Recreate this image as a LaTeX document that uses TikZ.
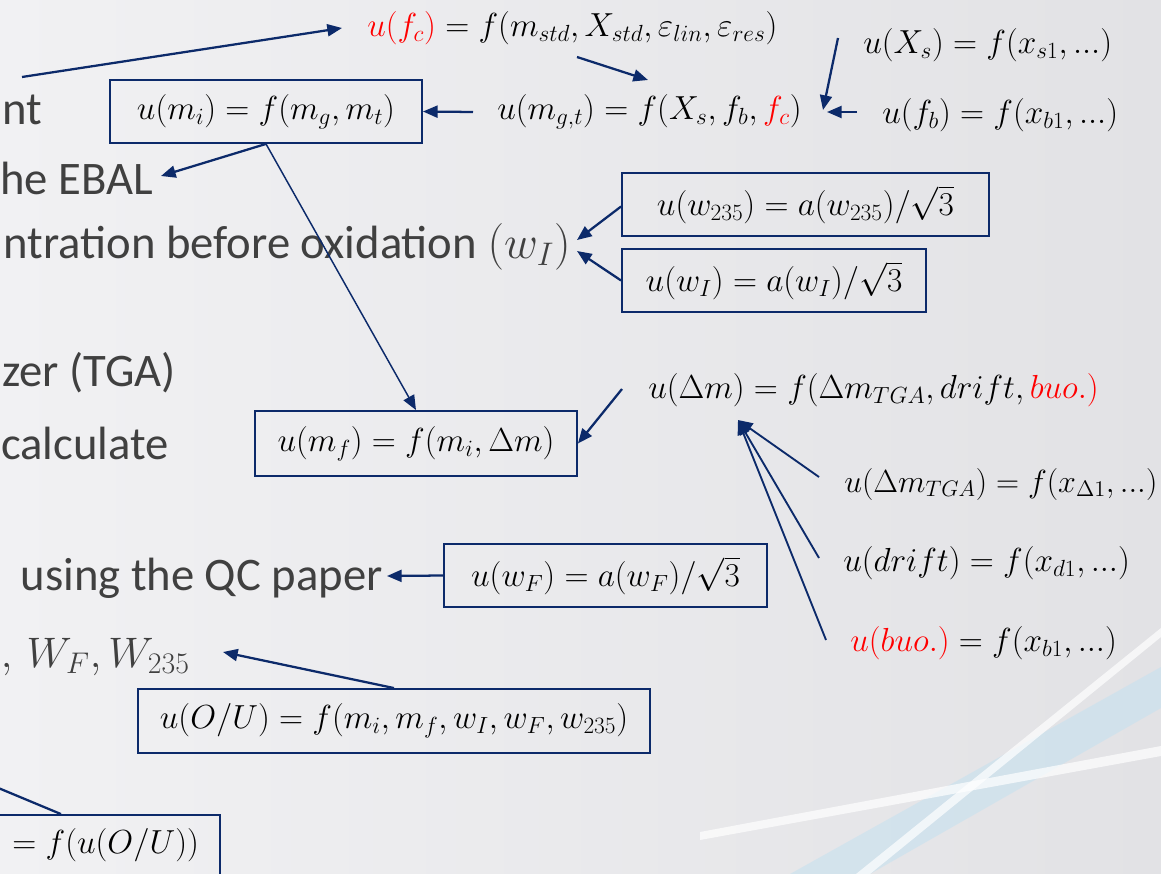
\RequirePackage{fix-cm}
\documentclass[tikz,border=0pt]{standalone}
\usepackage[no-math]{fontspec}
\newfontfamily\calibri{Carlito}
\usetikzlibrary{arrows.meta,calc}
\definecolor{mynavy}{HTML}{0C2A6A}
\definecolor{gtext}{HTML}{404040}
\definecolor{bgA}{HTML}{F1F1F3}
\definecolor{bgB}{HTML}{E2E2E5}
\definecolor{streak}{HTML}{C4E1F0}
\newcommand{\mydots}{{.}{.}{.}}
\begin{document}
\begin{tikzpicture}[x=0.75pt,y=-0.75pt,
  arr/.style={draw=mynavy, line width=1.7pt, -{Triangle[length=11pt,width=9pt]}},
  thinarr/.style={arr, line width=1.1pt},
  midarr/.style={arr, line width=1.4pt},
  box/.style={draw=mynavy, line width=1.4pt, inner sep=0pt, font=\fontsize{25}{30}\selectfont},
  eq/.style={inner sep=0pt, anchor=west, font=\fontsize{25}{30}\selectfont},
  lt/.style={inner sep=0pt, anchor=east, text=gtext, font=\calibri\fontsize{35}{42}\selectfont}]
\useasboundingbox (0,0) rectangle (1161,874);
\clip (0,0) rectangle (1161,874);
% background
\shade[left color=bgA, right color=bgB] (0,0) rectangle (1161,874);
\fill[streak, opacity=0.55] (790,874) -- (1161,667) -- (1161,708) -- (870,874) -- cycle;
\fill[white, opacity=0.7] (700,832) -- (1161,746) -- (1161,756) -- (700,840) -- cycle;
\fill[white, opacity=0.7] (856,874) -- (1161,628) -- (1161,637) -- (870,874) -- cycle;

% left slide text (cut off)
\node[lt] (t1) at (42,110) {nt};
\node[lt] (t2) at (153,178) {he EBAL};
\node[lt] (t3) at (571,247) {ntration before oxidation $(w_I)$};
\node[lt] (t4) at (176,373) {zer (TGA)};
\node[lt] (t5) at (169,443) {calculate};
\node[lt] (t6) at (383,578) {using the QC paper};
\node[lt, font=\fontsize{32}{38}\selectfont] (t7) at (190,657) {$,\,W_F, W_{235}$};

% formulas without boxes
\node[eq] (fc) at (367,28) {$\textcolor{red}{u(f_c)} = f(m_{std}, X_{std}, \varepsilon_{lin}, \varepsilon_{res})$};
\node[eq] (mgt) at (497,112) {$u\bigl(m_{g,t}\bigr) = f(X_s, f_b, \textcolor{red}{f_c})$};
\node[eq] (Xs) at (863,45) {$u(X_s) = f(x_{s1}, \mydots)$};
\node[eq] (fb) at (882,115) {$u(f_b) = f(x_{b1}, \mydots)$};
\node[eq] (dm) at (648,390) {$u(\Delta m) = f(\Delta m_{TGA}, drift, \textcolor{red}{buo.)}$};
\node[eq, font=\fontsize{24}{29}\selectfont] (dmT) at (844,484) {$u(\Delta m_{TGA}) = f(x_{\Delta 1}, \mydots)$};
\node[eq] (dr) at (843,563) {$u(drift) = f(x_{d1}, \mydots)$};
\node[eq] (bu) at (850,643) {$\textcolor{red}{u(buo.)} = f(x_{b1}, \mydots)$};

% boxed formulas
\node[box, minimum width=234pt, minimum height=47.25pt] (A) at (266,111.5) {$u(m_i) = f(m_g, m_t)$};
\node[box, minimum width=275.25pt, minimum height=47.25pt] (B) at (805.5,204.5) {$u(w_{235}) = a(w_{235})/\sqrt{3}$};
\node[box, minimum width=228pt, minimum height=47.25pt] (C) at (774,280.5) {$u(w_I) = a(w_I)/\sqrt{3}$};
\node[box, minimum width=241.5pt, minimum height=48.75pt] (D) at (416,443.5) {$u\bigl(m_f\bigr) = f(m_i, \Delta m)$};
\node[box, minimum width=242.25pt, minimum height=47.25pt] (E) at (605.5,575.5) {$u(w_F) = a(w_F)/\sqrt{3}$};
\node[box, minimum width=384pt, minimum height=48pt] (F) at (394,721) {$u(O/U) = f\bigl(m_i, m_f, w_I, w_F, w_{235}\bigr)$};
\node[box, minimum width=178.5pt, minimum height=45pt] (G) at (101,845) {${}= f\bigl(u(O/U)\bigr)$};

% connectors
\coordinate (s0) at (22,77);
\coordinate (g0) at (-40,772);
\draw[arr] (s0) -- ($(fc.west)+(-25,0)$);
\draw[arr] ($(fc.west)+(210,29)$) -- ($(mgt.west)+(151,-32)$);
\draw[arr] ($(mgt.west)+(-24,0)$) -- (A.east);
\draw[arr] ($(Xs.west)+(-25,-7)$) -- ($(fb.west)+(-59,-5)$);
\draw[arr] ($(fb.west)+(-25,-3)$) -- ($(fb.west)+(-55,-3)$);
\draw[arr] (A.south) -- ($(t2.east)+(8,-2)$);
\draw[thinarr] (A.south) -- (D.north);
\draw[arr] ($(B.west)+(0,2)$) -- ($(t3.east)+(6,-7)$);
\draw[arr] (C.west) -- ($(t3.east)+(6,4)$);
\draw[arr] ($(dm.west)+(-26,-1)$) -- (D.east);
\draw[midarr] ($(dmT.west)+(-25,-7)$) -- ($(dm.west)+(90,30)$);
\draw[midarr] ($(dr.west)+(-24,-5)$) -- ($(dm.west)+(90,30)$);
\draw[midarr] ($(bu.west)+(-24,-3)$) -- ($(dm.west)+(90,30)$);
\draw[arr] (E.west) -- ($(t6.east)+(4,-2)$);
\draw[arr] (F.north) -- ($(t7.east)+(33,-5)$);
\draw[arr] ($(G.north east)+(-160,0)$) -- (g0);
\end{tikzpicture}
\end{document}
